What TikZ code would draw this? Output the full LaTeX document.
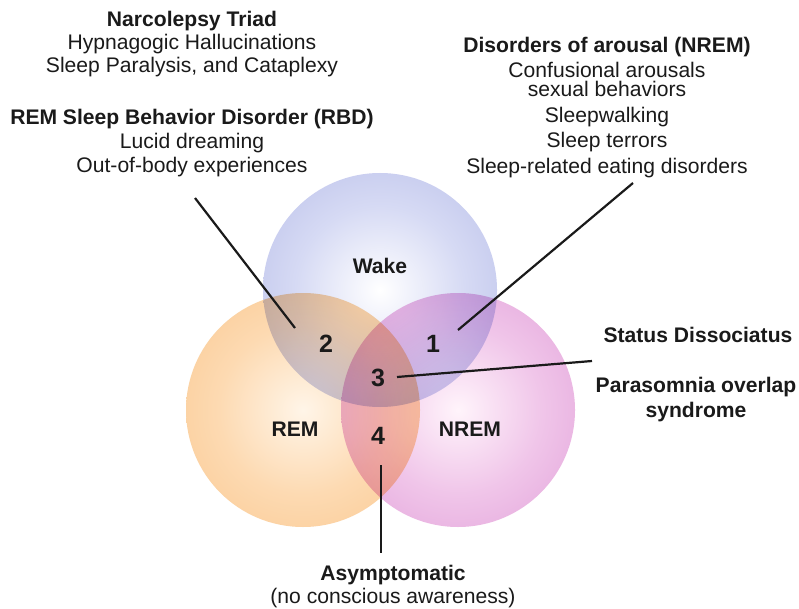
\documentclass[tikz,border=0pt]{standalone}
\usepackage{fontspec}
\setmainfont{Liberation Sans}
\usetikzlibrary{calc}

% Colours of the three states
\definecolor{wakeIn}{HTML}{FFFFFF}
\definecolor{wakeMid}{HTML}{D6DAF4}
\definecolor{wakeOut}{HTML}{A2A9E0}
\definecolor{remIn}{HTML}{FFF5E8}
\definecolor{remMid}{HTML}{FDDAB2}
\definecolor{remOut}{HTML}{F6BA76}
\definecolor{nremIn}{HTML}{FFF4FB}
\definecolor{nremMid}{HTML}{F0C5E9}
\definecolor{nremOut}{HTML}{D786CE}
\definecolor{ink}{HTML}{1A1A1A}

\pgfdeclareradialshading{wakeshade}{\pgfpointorigin}{color(0bp)=(wakeIn); color(18bp)=(wakeMid); color(50bp)=(wakeOut); color(72bp)=(wakeOut)}
\pgfdeclareradialshading{remshade}{\pgfpointorigin}{color(0bp)=(remIn); color(18bp)=(remMid); color(50bp)=(remOut); color(72bp)=(remOut)}
\pgfdeclareradialshading{nremshade}{\pgfpointorigin}{color(0bp)=(nremIn); color(18bp)=(nremMid); color(50bp)=(nremOut); color(72bp)=(nremOut)}

\tikzset{
  state/.style={circle, minimum size=234pt, inner sep=0pt, outer sep=0pt, shade},
  txt/.style={font=\fontsize{21.1}{25}\selectfont, text=ink, inner sep=0pt, anchor=base, align=center},
  btxt/.style={txt, font=\fontsize{21.1}{25}\selectfont\bfseries},
  region/.style={font=\fontsize{25}{28}\selectfont\bfseries, text=ink, inner sep=0pt, anchor=base},
  leader/.style={draw=ink, line width=2.2pt},
}

\begin{document}
\begin{tikzpicture}[x=1pt, y=-1pt]
\useasboundingbox (0,0) rectangle (799,609);
\fill[white] (0,0) rectangle (799,609);

% Three overlapping states, mixed multiplicatively
\begin{scope}[blend group=multiply]
  \node[state, shading=wakeshade] (wake) at (380,290) {};
  \node[state, shading=remshade]  (rem)  at (303,410) {};
  \node[state, shading=nremshade] (nrem) at (458,410) {};
\end{scope}

% Circle titles and region numbers
\node[btxt] (wakeT) at (380,273) {Wake};
\node[btxt] (remT)  at (295,436) {REM};
\node[btxt] (nremT) at (470,436) {NREM};
\node[region] (r1) at (433,352) {1};
\node[region] (r2) at (326,352) {2};
\node[region] (r3) at (378,386) {3};
\node[region] (r4) at (378,444) {4};

% Left text blocks
\node[btxt] (narco) at (192,27) {Narcolepsy Triad};
\node[txt]  (narco1) at (192,50) {Hypnagogic Hallucinations};
\node[txt]  (narco2) at (192,73) {Sleep Paralysis, and Cataplexy};
\node[btxt] (rbd) at (192,125) {REM Sleep Behavior Disorder (RBD)};
\node[txt]  (rbd1) at (192,149) {Lucid dreaming};
\node[txt]  (rbd2) at (192,173) {Out-of-body experiences};

% Right text block
\node[btxt] (arous) at (607,53) {Disorders of arousal (NREM)};
\node[txt]  (arous1) at (607,78) {Confusional arousals};
\node[txt]  (arous2) at (607,97) {sexual behaviors};
\node[txt]  (arous3) at (607,123) {Sleepwalking};
\node[txt]  (arous4) at (607,148) {Sleep terrors};
\node[txt]  (arous5) at (607,174) {Sleep-related eating disorders};

% Overlap of all three
\node[btxt] (status) at (698,342) {Status Dissociatus};
\node[btxt] (pos1) at (696,392) {Parasomnia overlap};
\node[btxt] (pos2) at (696,417) {syndrome};

% Bottom
\node[btxt] (asym) at (393,580) {Asymptomatic};
\node[txt]  (asym1) at (393,603) {(no conscious awareness)};

% Leader ends
\coordinate (l2a) at (195,198);
\coordinate (l2b) at (295,328);
\coordinate (l1a) at (633,183);
\coordinate (l1b) at (458,330);
\coordinate (l3a) at (397,377);
\coordinate (l3b) at (592,361);
\coordinate (l4a) at (381,465);
\coordinate (l4b) at (381,553);

\draw[leader] (l2a) -- (l2b);
\draw[leader] (l1a) -- (l1b);
\draw[leader] (l3a) -- (l3b);
\draw[leader] (l4a) -- (l4b);
\end{tikzpicture}
\end{document}
